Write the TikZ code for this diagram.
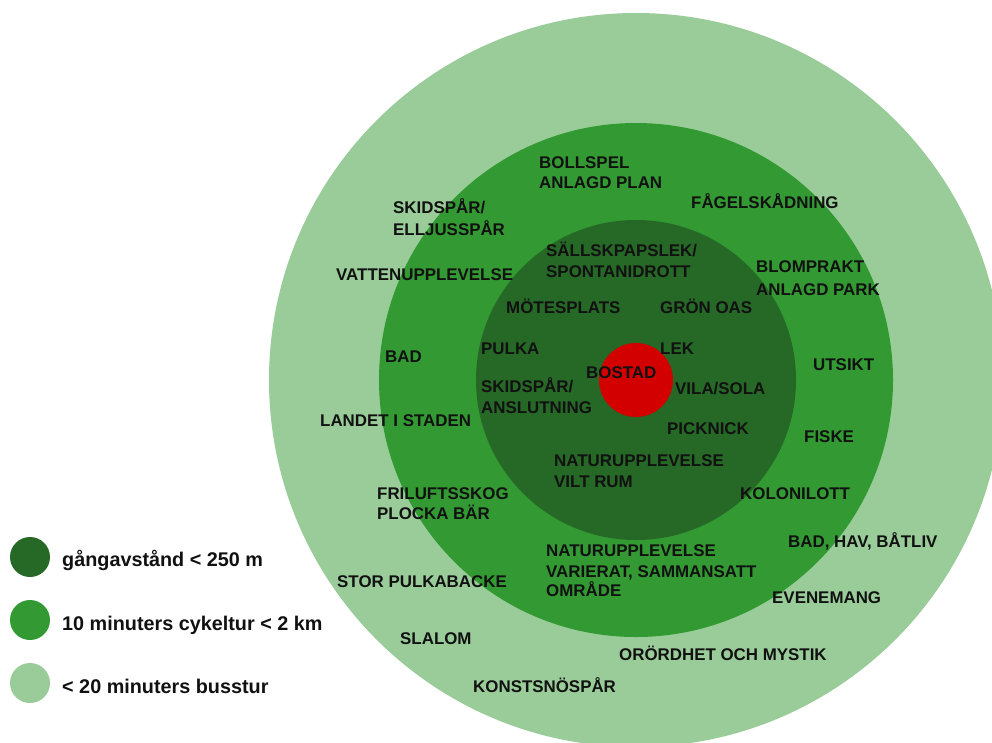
\documentclass[tikz,border=0pt]{standalone}
\usepackage{fontspec}
\setmainfont{Liberation Sans}
\definecolor{zoneA}{RGB}{38,104,38}
\definecolor{zoneB}{RGB}{51,153,51}
\definecolor{zoneC}{RGB}{153,204,153}
\definecolor{homeRed}{RGB}{210,0,0}
\definecolor{inkText}{RGB}{17,17,17}
\tikzset{
  lbl/.style={anchor=base west, inner sep=0pt, text=inkText,
    font=\fontsize{16.9}{18}\selectfont\bfseries},
  legtxt/.style={anchor=base west, inner sep=0pt, text=inkText,
    font=\fontsize{19.8}{22}\selectfont\bfseries},
  zone/.style={circle, draw=none, inner sep=0pt}
}
\begin{document}
\begin{tikzpicture}[x=1pt,y=-1pt]
\useasboundingbox (0,0) rectangle (992,742);
\fill[white] (0,0) rectangle (992,742);
\begin{scope}
\clip (0,0) rectangle (992,742);
\node[zone, fill=zoneC, minimum size=734pt] (outer) at (636,380) {};
\node[zone, fill=zoneB, minimum size=514pt] (middle) at (636,380) {};
\node[zone, fill=zoneA, minimum size=320pt] (inner) at (636,380) {};
\node[zone, fill=homeRed, minimum size=74pt] (home) at (636,380) {};
\end{scope}
% legend
\node[zone, fill=zoneA, minimum size=40pt] (legA) at (30,557) {};
\node[zone, fill=zoneB, minimum size=40pt] (legB) at (30,620) {};
\node[zone, fill=zoneC, minimum size=40pt] (legC) at (30,683) {};
\node[legtxt] (legAt) at (62,566) {gångavstånd < 250 m};
\node[legtxt] (legBt) at (62,630) {10 minuters cykeltur < 2 km};
\node[legtxt] (legCt) at (62,693) {< 20 minuters busstur};
% labels (baseline = centre + 6)
\node[lbl] (l1a) at (539,168) {BOLLSPEL};
\node[lbl] (l1b) at (539,188) {ANLAGD PLAN};
\node[lbl] (l2a) at (393,213) {SKIDSPÅR/};
\node[lbl] (l2b) at (393,235) {ELLJUSSPÅR};
\node[lbl] (l3) at (691,208) {FÅGELSKÅDNING};
\node[lbl] (l4a) at (546,256) {SÄLLSKPAPSLEK/};
\node[lbl] (l4b) at (546,277) {SPONTANIDROTT};
\node[lbl] (l5) at (336,280) {VATTENUPPLEVELSE};
\node[lbl] (l6a) at (756,272) {BLOMPRAKT};
\node[lbl] (l6b) at (756,295) {ANLAGD PARK};
\node[lbl] (l7) at (506,313) {MÖTESPLATS};
\node[lbl] (l8) at (660,313) {GRÖN OAS};
\node[lbl] (l9) at (481,354) {PULKA};
\node[lbl] (l10) at (660,354) {LEK};
\node[lbl] (l11) at (385,362) {BAD};
\node[lbl] (l12) at (813,370) {UTSIKT};
\node[lbl] (l13) at (586,378) {BOSTAD};
\node[lbl] (l14a) at (481,392) {SKIDSPÅR/};
\node[lbl] (l14b) at (481,413) {ANSLUTNING};
\node[lbl] (l15) at (675,394) {VILA/SOLA};
\node[lbl] (l16) at (320,426) {LANDET I STADEN};
\node[lbl] (l17) at (667,434) {PICKNICK};
\node[lbl] (l18) at (804,442) {FISKE};
\node[lbl] (l19a) at (554,466) {NATURUPPLEVELSE};
\node[lbl] (l19b) at (554,487) {VILT RUM};
\node[lbl] (l20a) at (377,499) {FRILUFTSSKOG};
\node[lbl] (l20b) at (377,519) {PLOCKA BÄR};
\node[lbl] (l21) at (740,499) {KOLONILOTT};
\node[lbl] (l22) at (788,547) {BAD, HAV, BÅTLIV};
\node[lbl] (l23a) at (546,556) {NATURUPPLEVELSE};
\node[lbl] (l23b) at (546,577) {VARIERAT, SAMMANSATT};
\node[lbl] (l23c) at (546,596) {OMRÅDE};
\node[lbl] (l24) at (337,587) {STOR PULKABACKE};
\node[lbl] (l25) at (772,603) {EVENEMANG};
\node[lbl] (l26) at (400,644) {SLALOM};
\node[lbl] (l27) at (619,660) {ORÖRDHET OCH MYSTIK};
\node[lbl] (l28) at (473,692) {KONSTSNÖSPÅR};
\end{tikzpicture}
\end{document}
